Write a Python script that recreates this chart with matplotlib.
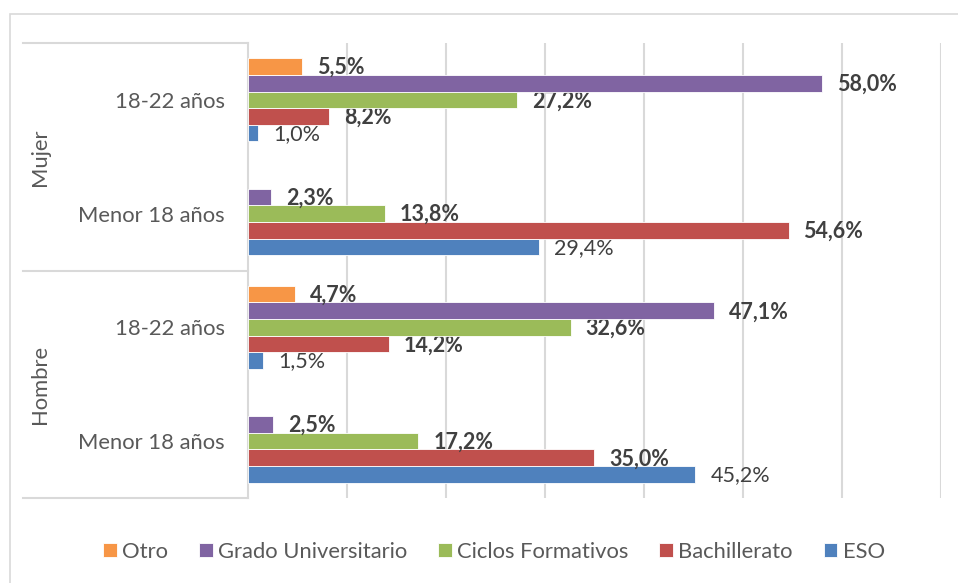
import numpy as np
import matplotlib
matplotlib.use("Agg")
from matplotlib import pyplot as plt
from matplotlib.patches import Rectangle

# categories from bottom to top
age_groups = ["Menor 18 años", "18-22 años", "Menor 18 años", "18-22 años"]
sex_groups = ["Hombre", "Mujer"]

# series values (%), same order as age_groups
eso = [45.2, 1.5, 29.4, 1.0]
bachillerato = [35.0, 14.2, 54.6, 8.2]
ciclos = [17.2, 32.6, 13.8, 27.2]
grado = [2.5, 47.1, 2.3, 58.0]
otro = [None, 4.7, None, 5.5]

series = [
    ("ESO", eso, "#4F81BD", "normal"),
    ("Bachillerato", bachillerato, "#C0504D", "bold"),
    ("Ciclos Formativos", ciclos, "#9BBB59", "bold"),
    ("Grado Universitario", grado, "#8064A2", "bold"),
    ("Otro", otro, "#F79646", "bold"),
]

plt.rcParams['font.family'] = ['Lato', 'DejaVu Sans']

W, H = 958, 583
fig = plt.figure(figsize=(W / 100, H / 100), dpi=100)
ax = fig.add_axes([248 / W, 1 - 498 / H, (941 - 248) / W, (498 - 43) / H])

grid_col = "#D9D9D9"
text_col = "#595959"
label_col = "#404040"

bar_h = 0.146
y = np.arange(len(age_groups))
handles = {}
for i, (name, vals, color, weight) in enumerate(series):
    offs = (i - 2) * bar_h
    for j, v in enumerate(vals):
        if v is None:
            continue
        b = ax.barh(y[j] + offs, v, height=bar_h, color=color, edgecolor="white", linewidth=0.6, zorder=3)
        handles[name] = b
        ax.annotate(f"{v:.1f}%".replace(".", ","), xy=(v, y[j] + offs), xytext=(15, -1),
                    textcoords="offset pixels", ha="left", va="center",
                    fontsize=15.5, fontweight=weight, color=label_col)

ax.set_xlim(0, 70)
ax.set_ylim(-0.5, 3.5)
ax.set_xticks(np.arange(10, 71, 10))
ax.xaxis.grid(True, color=grid_col, linewidth=1.5, zorder=0)
ax.tick_params(axis="x", length=0, labelbottom=False)
ax.set_yticks(y)
ax.set_yticklabels(age_groups, fontsize=15.8, color=text_col)
ax.tick_params(axis="y", length=0, pad=16.5)
for s in ["top", "right", "bottom"]:
    ax.spines[s].set_visible(False)
ax.spines["left"].set_color(grid_col)
ax.spines["left"].set_linewidth(1.5)

# group separators and sex labels on the left
tr = ax.get_yaxis_transform()
x_left = (23 - 248) / (941 - 248)
for yy in [-0.5, 1.5, 3.5]:
    ax.plot([x_left, 0], [yy, yy], color=grid_col, linewidth=1.5, transform=tr, clip_on=False)
for k, sx in enumerate(sex_groups):
    ax.text((40 - 248) / (941 - 248), 0.5 + 2 * k, sx, transform=tr, rotation=90,
            ha="center", va="center", fontsize=15.8, color=text_col)

# outer chart border
fig.add_artist(Rectangle((10 / W, -0.1), 1.2, 1 - 14 / H + 0.1, transform=fig.transFigure,
                         fill=False, edgecolor=grid_col, linewidth=1.2))

order = ["Otro", "Grado Universitario", "Ciclos Formativos", "Bachillerato", "ESO"]
leg = fig.legend([handles[n] for n in order], order, loc="center", bbox_to_anchor=(494 / W, 1 - 552 / H),
                 ncol=5, frameon=False, fontsize=15.8, handlelength=0.62, handleheight=0.62,
                 handletextpad=0.25, columnspacing=1.4, labelcolor=text_col)

fig.savefig("out.png", dpi=100)
